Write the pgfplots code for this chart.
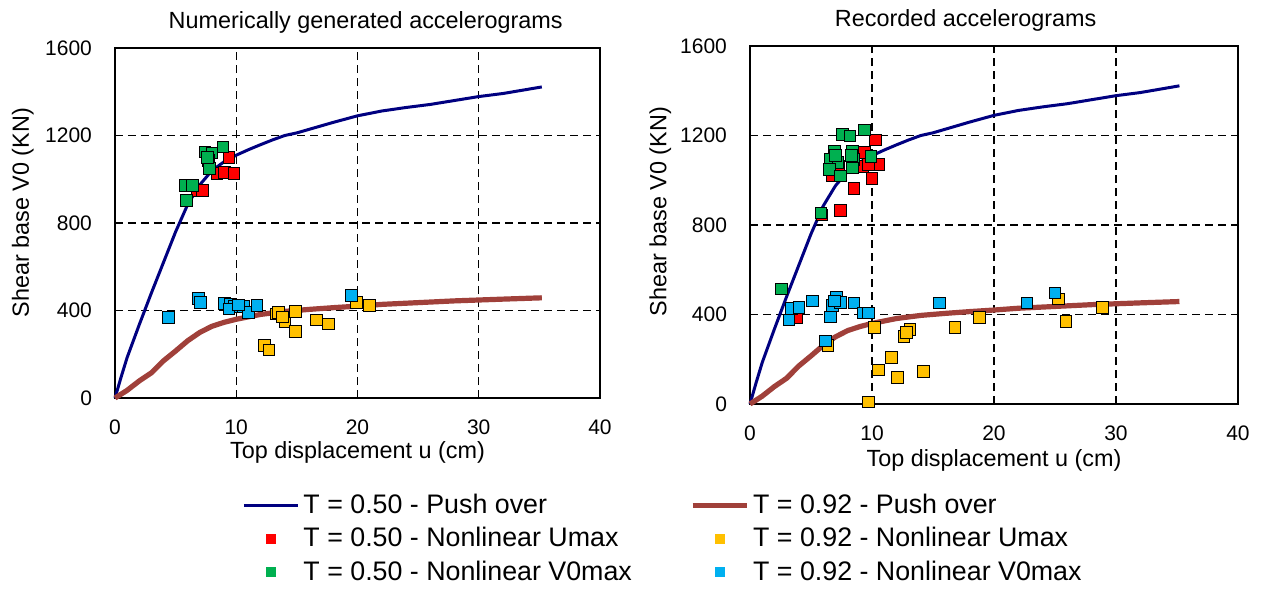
\documentclass[border=0pt]{standalone}
\usepackage{pgfplots}
\pgfplotsset{compat=1.18}
\usepackage{fontspec}
\setmainfont{Liberation Sans}
\definecolor{cblue}{RGB}{0,0,128}
\definecolor{cbrown}{RGB}{160,64,58}
\definecolor{cred}{RGB}{255,0,0}
\definecolor{cyel}{RGB}{255,192,0}
\definecolor{cgreen}{RGB}{0,176,80}
\definecolor{ccyan}{RGB}{0,176,240}

\pgfplotstableread{
x y
0 0
0.5 95
1 185
2 335
3 480
4 620
5 760
6 885
7 975
8 1040
9 1080
10 1110
11 1135
12 1158
13 1180
14 1200
15 1212
16 1228
18 1260
20 1290
22 1312
24 1328
26 1342
28 1360
30 1378
32 1392
35.2 1422
}\pushA
\pgfplotstableread{
x y
0 0
1 35
2 78
3 115
4 170
5 215
6 262
7 300
8 328
9 346
10 360
12 382
14 396
16 405
18 413
20 420
22 428
25 436
28 444
30 448
32 452
35.2 458
}\pushB

\pgfplotsset{
  mystyle/.style={
    scale only axis, anchor=south west,
    xmin=0, xmax=40, ymin=0, ymax=1600,
    xtick={0,10,20,30,40}, ytick={0,400,800,1200,1600},
    grid=major,
    major grid style={black, line width=0.65pt, dash pattern=on 4pt off 2.5pt},
    axis line style={black, line width=0.8pt},
    major tick length=0pt,
    /pgf/number format/assume math mode=true,
    /pgf/number format/1000 sep={},
    tick label style={font=\fontsize{10.5}{12}\selectfont},
    yticklabel style={xshift=-8pt},
    xticklabel style={yshift=-7.5pt},
    label style={font=\fontsize{11.7}{14}\selectfont},
    clip=false,
  },
  lineA/.style={cblue, line width=1.5pt, no markers},
  lineB/.style={cbrown, line width=2.6pt, no markers},
  sc/.style={only marks, mark=square*, mark size=2.9pt, mark options={draw=none, fill=#1}},
  mleg/.style={legend image code/.code={\fill[#1,draw=none] (11pt,-2.6pt) rectangle (16pt,2.4pt); \path[draw=none,fill=none] (0pt,0pt) -- (27pt,0pt);}},
}

\begin{document}
\begin{tikzpicture}
\useasboundingbox (0,0) rectangle (632.5pt,-294.5pt);
\begin{axis}[mystyle, at={(57.5pt,-199pt)}, width=242.5pt, height=175pt,
  title={Numerically generated accelerograms},
  every axis title/.style={at={(axis description cs:0.517,1)}, anchor=base, yshift=9.9pt, font=\fontsize{11.7}{14}\selectfont},
  xlabel={Top displacement u (cm)},
  xlabel style={at={(axis description cs:0.5,0)}, anchor=center, yshift=-27pt},
  ylabel={Shear base V0 (KN)},
  ylabel style={at={(axis description cs:-0.19,0.529)}, anchor=center},
  legend columns=2,
  legend cell align=left,
  legend style={at={(axis description cs:0.262,-0.262)}, anchor=north west,
    draw=none, fill=none, inner sep=0pt,
    font=\fontsize{13.4}{16}\selectfont,
    row sep=1.5pt,
    /tikz/every even column/.append style={column sep=27pt}},
]
\addplot[lineA, legend image code/.code={\draw[cblue,line width=1.5pt] (0pt,0pt) -- (27pt,0pt);}] table {\pushA};
\addlegendentry{T = 0.50 - Push over}
\addplot[lineB, legend image code/.code={\draw[cbrown,line width=2.6pt] (0pt,0pt) -- (27pt,0pt);}] table {\pushB};
\addlegendentry{T = 0.92 - Push over}
\addplot[sc=cred, mleg=cred] coordinates {
(9.4,1100) (8.4,1026) (9.0,1030) (9.8,1028) (6.8,950) (7.2,948)};
\addlegendentry{T = 0.50 - Nonlinear Umax}
\addplot[sc=cyel, mleg=cyel] coordinates {
(13.3,385) (13.5,392) (14.0,350) (14.9,395) (14.9,305) (16.6,357) (17.6,339) (12.3,240) (12.7,220) (19.9,438) (21.0,423) (13.8,370)};
\addlegendentry{T = 0.92 - Nonlinear Umax}
\addplot[sc=cgreen, mleg=cgreen] coordinates {
(7.4,1125) (8.0,1120) (7.7,1085) (7.8,1050) (8.9,1148) (5.75,972) (6.4,972) (5.9,904) (7.6,1100)};
\addlegendentry{T = 0.50 - Nonlinear V0max}
\addplot[sc=ccyan, mleg=ccyan] coordinates {
(4.4,369) (6.9,455) (7.05,438) (9.0,432) (9.5,430) (9.8,420) (9.4,408) (10.6,418) (11.0,392) (11.7,423) (19.5,469) (10.2,425)};
\addlegendentry{T = 0.92 - Nonlinear V0max}
\end{axis}

\begin{axis}[mystyle, at={(375pt,-202pt)}, width=244pt, height=179pt,
  title={Recorded accelerograms},
  every axis title/.style={at={(axis description cs:0.442,1)}, anchor=base, yshift=9.9pt, font=\fontsize{11.7}{14}\selectfont},
  xlabel={Top displacement u (cm)},
  xlabel style={at={(axis description cs:0.5,0)}, anchor=center, yshift=-28pt},
  ylabel={Shear base V0 (KN)},
  ylabel style={at={(axis description cs:-0.184,0.537)}, anchor=center},
]
\addplot[lineA] table {\pushA};
\addplot[lineB] table {\pushB};
\addplot[sc=cred] coordinates {
(10.3,1180) (9.4,1124) (9.2,1061) (10.5,1071) (10.0,1008) (8.5,963) (7.4,866) (5.9,846) (3.8,385) (6.7,1019) (7.3,1064) (9.7,1070)};
\addplot[sc=cyel] coordinates {
(6.4,262) (10.2,342) (12.6,303) (13.1,334) (12.8,320) (11.6,207) (10.5,153) (12.1,120) (14.2,145) (9.7,10) (16.8,342) (18.8,387) (25.3,469) (25.9,370) (28.9,431)};
\addplot[sc=cgreen] coordinates {
(2.55,514) (5.8,854) (7.56,1206) (8.2,1199) (9.4,1225) (6.9,1131) (6.6,1094) (7.2,1079) (6.5,1049) (8.4,1131) (8.5,1094) (8.4,1056) (7.4,1019) (9.9,1106) (7.0,1110) (8.3,1110)};
\addplot[sc=ccyan] coordinates {
(3.2,375) (3.4,427) (4.0,431) (5.1,460) (6.2,282) (6.6,390) (6.75,442) (7.1,479) (7.4,454) (8.5,452) (9.3,407) (9.7,407) (15.5,452) (22.7,452) (25.0,497) (6.9,460)};
\end{axis}
\end{tikzpicture}
\end{document}
